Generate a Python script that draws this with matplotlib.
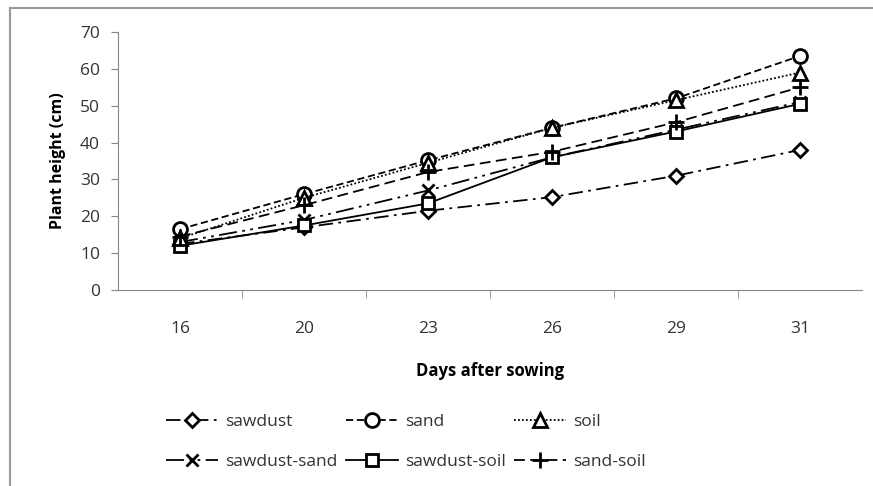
import matplotlib
matplotlib.use("Agg")
import matplotlib.pyplot as plt
from matplotlib.lines import Line2D

plt.rcParams['font.family'] = ['Open Sans', 'DejaVu Sans']

days = ["16", "20", "23", "26", "29", "31"]
sawdust = [12.5, 17.0, 21.5, 25.2, 31.0, 38.0]
sand = [16.5, 26.0, 35.2, 44.0, 52.0, 63.5]
soil = [14.0, 25.0, 34.5, 44.0, 51.5, 59.0]
sawdust_sand = [13.0, 19.0, 27.0, 36.0, 43.5, 51.0]
sawdust_soil = [12.0, 17.5, 23.5, 36.0, 43.0, 50.5]
sand_soil = [14.5, 23.0, 32.0, 37.5, 45.5, 55.0]

series = [
    ("sawdust", sawdust, "D", (0, (8, 3, 1.5, 3)), 7.5),
    ("sawdust-sand", sawdust_sand, "x", (0, (10, 3, 1.5, 3, 1.5, 3)), 9),
    ("sand", sand, "o", (0, (4, 2)), 10),
    ("sawdust-soil", sawdust_soil, "s", "-", 9),
    ("soil", soil, "^", (0, (1, 1.2)), 9.5),
    ("sand-soil", sand_soil, "+", (0, (6, 3)), 11),
]

fig = plt.figure(figsize=(8.73, 4.86), dpi=100)
W, H = 873, 486
ax = fig.add_axes([118 / W, 1 - 290 / H, (862 - 118) / W, (290 - 32) / H])

x = list(range(len(days)))
handles = []
for name, vals, mk, ls, ms in series:
    h, = ax.plot(x, vals, color="black", linestyle=ls, linewidth=1.3,
                 marker=mk, markersize=ms, markerfacecolor="white",
                 markeredgecolor="black", markeredgewidth=2.0, label=name)
    handles.append(h)

ax.set_xlim(-0.5, len(days) - 0.5)
ax.set_ylim(0, 70)
ax.set_yticks(range(0, 71, 10))
ax.set_xticks(x)
ax.set_xticklabels(days)
ax.set_xticks([i + 0.5 for i in range(len(days) - 1)], minor=True)
ax.tick_params(axis="x", which="major", length=0, pad=22, labelsize=12.5, labelcolor="#333333")
ax.tick_params(axis="x", which="minor", length=6, direction="out", color="#888888")
ax.tick_params(axis="y", length=5, direction="out", color="#888888", labelsize=12.5,
               labelcolor="#333333", pad=8)
for s in ["top", "right"]:
    ax.spines[s].set_visible(False)
for s in ["left", "bottom"]:
    ax.spines[s].set_color("#888888")

ax.set_xlabel("Days after sowing", fontsize=12, fontweight="bold", labelpad=18)
ax.set_ylabel("Plant height (cm)", fontsize=11.5, fontweight="bold", labelpad=10)

fig.legend(handles=handles, loc="upper left", bbox_to_anchor=(150 / W, 1 - 398 / H),
           ncol=3, frameon=False, fontsize=12.5, handlelength=3.0, columnspacing=0.5,
           labelspacing=1.4, handletextpad=0.4, labelcolor="#333333")

# outer frame of the chart area
fig.add_artist(Line2D([10 / W, 1], [1 - 8 / H, 1 - 8 / H], color="#999999", linewidth=1.5))
fig.add_artist(Line2D([10 / W, 10 / W], [0, 1 - 8 / H], color="#999999", linewidth=1.5))

fig.savefig("out.png", dpi=100)
